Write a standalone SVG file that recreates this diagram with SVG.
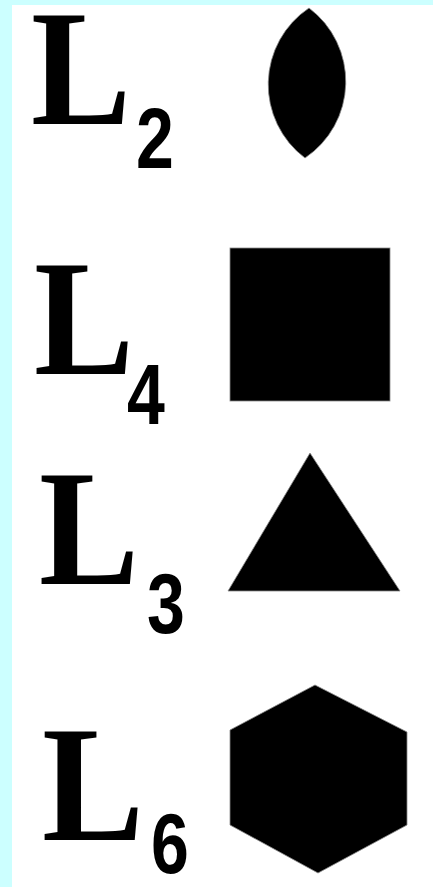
<svg xmlns="http://www.w3.org/2000/svg" width="433" height="887" viewBox="0 0 433 887">
<style>
.L{font-family:"Liberation Serif","Times New Roman",serif;font-weight:bold;font-size:165px;fill:#000}
.s{font-family:"Liberation Sans",Arial,sans-serif;font-weight:bold;font-size:85px;fill:#000}
.sh{fill:#000;stroke:#888;stroke-width:0.8}
</style>
<rect x="0" y="0" width="433" height="887" fill="#ccffff"/>
<rect x="12" y="5" width="421" height="882" fill="#fff"/>
<g id="row-L2">
<text class="L" x="31" y="124" textLength="100" lengthAdjust="spacingAndGlyphs">L</text>
<text class="s" transform="translate(136,168) scale(0.8,1)">2</text>
<path id="lens" class="sh" d="M309,8 A92,92 0 0 1 305,158 A92,92 0 0 1 309,8 Z"/>
</g>
<g id="row-L4">
<text class="L" x="34" y="374" textLength="100" lengthAdjust="spacingAndGlyphs">L</text>
<text class="s" transform="translate(127,424) scale(0.8,1)">4</text>
<rect id="square" class="sh" x="230" y="248" width="160" height="153"/>
</g>
<g id="row-L3">
<text class="L" x="39" y="584" textLength="100" lengthAdjust="spacingAndGlyphs">L</text>
<text class="s" transform="translate(147,633) scale(0.8,1)">3</text>
<polygon id="triangle" class="sh" points="310,453 400,591 228,591"/>
</g>
<g id="row-L6">
<text class="L" x="42" y="840" textLength="102" lengthAdjust="spacingAndGlyphs">L</text>
<text class="s" transform="translate(151,873) scale(0.8,1)">6</text>
<polygon id="hexagon" class="sh" points="315,685 407,732 407,825 318,873 230,825 230,730"/>
</g>
</svg>
